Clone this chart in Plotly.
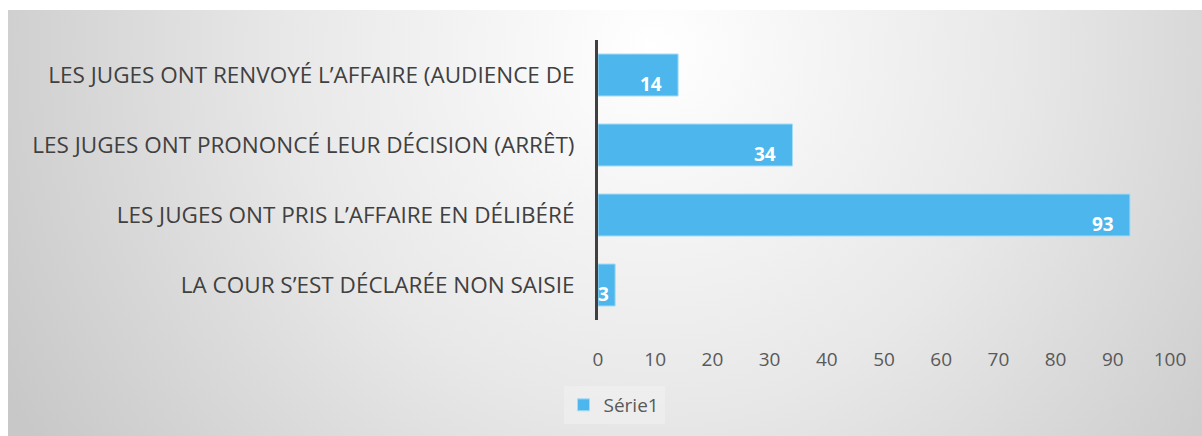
import base64
import plotly.graph_objects as go

categories = [
    "LA COUR S’EST DÉCLARÉE NON SAISIE",
    "LES JUGES ONT PRIS L’AFFAIRE EN DÉLIBÉRÉ",
    "LES JUGES ONT PRONONCÉ LEUR DÉCISION (ARRÊT)",
    "LES JUGES ONT RENVOYÉ L’AFFAIRE (AUDIENCE DE",
]
values = [3, 93, 34, 14]
series_name = "Série1"
x_ticks = [0, 10, 20, 30, 40, 50, 60, 70, 80, 90, 100]

W, H = 1202, 436
L, R, T, B = 598, 32, 40, 116

# radial grey background like the office chart style
svg = f"""<svg xmlns='http://www.w3.org/2000/svg' width='{W}' height='{H}'>
<defs><radialGradient id='g' gradientUnits='userSpaceOnUse' cx='650' cy='40' r='740'>
<stop offset='0' stop-color='#ffffff'/><stop offset='0.5' stop-color='#e8e8e8'/>
<stop offset='1' stop-color='#c8c8c8'/></radialGradient></defs>
<rect x='0' y='0' width='{W}' height='{H}' fill='url(#g)'/></svg>"""
bg = "data:image/svg+xml;base64," + base64.b64encode(svg.encode()).decode()

pw, ph = W - L - R, H - T - B
def px_x(p):
    return (p - L) / pw
def px_y(p):
    return (H - B - p) / ph

fig = go.Figure()
fig.add_trace(go.Bar(
    x=values, y=categories, orientation="h", name=series_name,
    marker=dict(color="#4db6ec", line=dict(color="#a6dcf6", width=1)),
    width=0.6, showlegend=True,
))

for v, c in zip(values, categories):
    fig.add_annotation(x=v, y=c, text=f"<b>{v}</b>", showarrow=False,
                       xanchor="right", yanchor="middle", xshift=-14 if v > 5 else -4,
                       yshift=-9,
                       font=dict(family="Open Sans", size=19, color="white"))

fig.add_layout_image(dict(
    source=bg, xref="paper", yref="paper",
    x=px_x(8), y=px_y(10), sizex=(W - 8) / pw, sizey=(H - 10) / ph,
    xanchor="left", yanchor="top", sizing="stretch", layer="below",
))

fig.update_layout(
    width=W, height=H,
    margin=dict(l=L, r=R, t=T, b=B),
    paper_bgcolor="white", plot_bgcolor="rgba(0,0,0,0)",
    bargap=0.4,
    font=dict(family="Open Sans", color="#404040"),
    legend=dict(orientation="h", x=px_x(614), y=px_y(386), xanchor="center", yanchor="top",
                bgcolor="rgba(240,240,240,0.7)", itemwidth=30,
                font=dict(size=19, color="#595959")),
    xaxis=dict(range=[0, 100], tickvals=x_ticks, showgrid=False, zeroline=False,
               showline=False, ticks="outside", ticklen=22, tickcolor="rgba(0,0,0,0)",
               tickfont=dict(size=19, color="#595959")),
    yaxis=dict(showgrid=False, zeroline=False, showline=True, linecolor="#404040",
               linewidth=3, ticks="outside", ticklen=16, tickcolor="rgba(0,0,0,0)",
               tickfont=dict(size=22.5, color="#404040"),
               range=[-0.5, 3.5]),
)

fig.write_html("out.html", config={"displayModeBar": False},
               post_script="document.body.style.margin='0';")
